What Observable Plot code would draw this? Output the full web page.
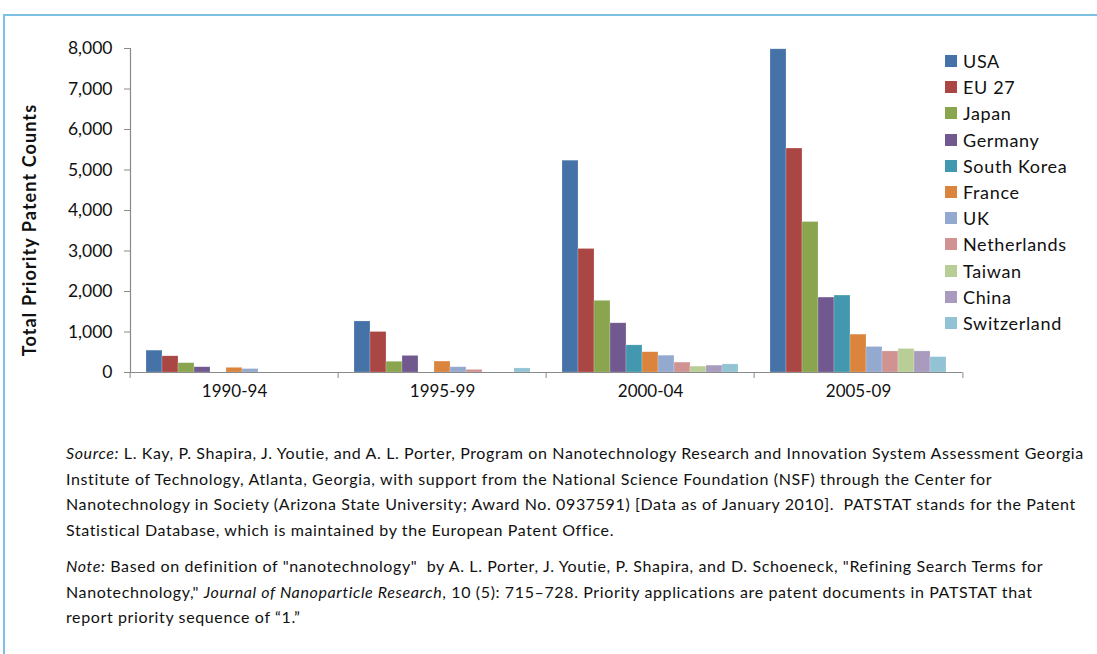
<!DOCTYPE html>
<html>
<head>
<meta charset="utf-8">
<script src="https://cdn.jsdelivr.net/npm/d3@7"></script>
<script src="https://cdn.jsdelivr.net/npm/@observablehq/plot@0.6"></script>
<style>
  html, body { margin: 0; padding: 0; background: #fff; }
  #wrap { position: relative; width: 1097px; height: 654px; overflow: hidden; font-family: Lato, "Open Sans", sans-serif; color: #111; }
  #border { position: absolute; left: 3px; top: 14px; right: -4px; bottom: -4px; border-top: 2px solid #7cc0e3; border-left: 2px solid #7cc0e3; }
  #chart { position: absolute; left: 0; top: 0; }
  #ytitle { position: absolute; left: 29px; top: 230px; transform: translate(-50%, -50%) rotate(-90deg); white-space: nowrap; font-weight: bold; font-size: 18px; letter-spacing: 1.1px; }
  #legend { position: absolute; left: 945px; top: 48px; font-size: 18px; letter-spacing: 0.65px; }
  #legend .item { display: flex; align-items: center; height: 26.2px; white-space: nowrap; }
  #legend .sw { width: 12px; height: 12px; margin-right: 6px; }
  #caption { position: absolute; left: 66px; top: 440px; font-size: 16px; letter-spacing: 0.62px; line-height: 25.5px; white-space: nowrap; }
  #caption p { margin: 0 0 11px 0; }
</style>
</head>
<body>
<div id="wrap">
  <div id="border"></div>
  <div id="chart"></div>
  <div id="ytitle">Total Priority Patent Counts</div>
  <div id="legend"></div>
  <div id="caption">
    <p><i>Source:</i> L. Kay, P. Shapira, J. Youtie, and A. L. Porter, Program on Nanotechnology Research and Innovation System Assessment Georgia<br>
    Institute of Technology, Atlanta, Georgia, with support from the National Science Foundation (NSF) through the Center for<br>
    Nanotechnology in Society (Arizona State University; Award No. 0937591) [Data as of January 2010].&nbsp; PATSTAT stands for the Patent<br>
    Statistical Database, which is maintained by the European Patent Office.</p>
    <p><i>Note:</i> Based on definition of "nanotechnology"&nbsp; by A. L. Porter, J. Youtie, P. Shapira, and D. Schoeneck, "Refining Search Terms for<br>
    Nanotechnology," <i>Journal of Nanoparticle Research</i>, 10 (5): 715–728. Priority applications are patent documents in PATSTAT that<br>
    report priority sequence of “1.”</p>
  </div>
</div>
<script>
const periods = ["1990-94", "1995-99", "2000-04", "2005-09"];
const countries = ["USA", "EU 27", "Japan", "Germany", "South Korea", "France", "UK", "Netherlands", "Taiwan", "China", "Switzerland"];
const colors = ["#4572A7", "#AA4643", "#89A54E", "#71588F", "#4198AF", "#DB843D", "#93A9CF", "#D19392", "#B9CD96", "#A99BBD", "#91C3D5"];
const v1990_94 = [540, 400, 230, 130, 0, 115, 85, 0, 0, 0, 0];
const v1995_99 = [1260, 1000, 265, 410, 0, 270, 130, 65, 0, 0, 100];
const v2000_04 = [5230, 3050, 1770, 1215, 670, 500, 415, 245, 145, 170, 200];
const v2005_09 = [7980, 5530, 3715, 1850, 1900, 935, 630, 520, 580, 520, 380];
const yTicks = [0, 1000, 2000, 3000, 4000, 5000, 6000, 7000, 8000];

const series = [v1990_94, v1995_99, v2000_04, v2005_09];
const data = [];
periods.forEach((p, i) => countries.forEach((c, j) => data.push({period: p, country: c, value: series[i][j]})));

const W = 1097, mL = 128, mR = 134;
const halfGroup = (W - mL - mR) / periods.length / 2;
const gray = "#8a8a8a";
const fmt = d3.format(",");

const chart = Plot.plot({
  width: W,
  height: 412,
  marginLeft: mL,
  marginRight: mR,
  marginTop: 48,
  marginBottom: 40,
  style: {fontFamily: "Lato, 'Open Sans', sans-serif", fontSize: "17px", color: "#111", background: "transparent"},
  fx: {domain: periods, padding: 0, label: null},
  x: {domain: countries, paddingInner: 0, paddingOuter: 0.73, axis: null},
  y: {domain: [0, 8000], label: null},
  color: {domain: countries, range: colors},
  marks: [
    Plot.barY(data.filter(d => d.value > 0), {fx: "period", x: "country", y: "value", fill: "country", stroke: "#fff", strokeOpacity: 0.35, strokeWidth: 0.6}),
    Plot.ruleY([0], {stroke: gray, strokeWidth: 1.2}),
    Plot.frame({anchor: "left", facet: "super", stroke: gray, strokeWidth: 1.2}),
    Plot.axisY({ticks: yTicks, tickFormat: fmt, tickSize: 6, tickPadding: 12, stroke: gray, fontSize: 17.5, letterSpacing: 0.8, label: null}),
    Plot.axisFx({anchor: "bottom", tickSize: 0, tickPadding: 12, fontSize: 17, letterSpacing: 0.7, label: null}),
    Plot.axisFx({anchor: "bottom", tickSize: 6, tickFormat: () => "", dx: -halfGroup, stroke: gray, label: null}),
    Plot.axisFx({anchor: "bottom", ticks: [periods[periods.length - 1]], tickSize: 6, tickFormat: () => "", dx: halfGroup, stroke: gray, label: null})
  ]
});
document.getElementById("chart").appendChild(chart);

const legend = document.getElementById("legend");
countries.forEach((c, i) => {
  const it = document.createElement("div");
  it.className = "item";
  const sw = document.createElement("span");
  sw.className = "sw";
  sw.style.background = colors[i];
  const t = document.createElement("span");
  t.textContent = c;
  it.appendChild(sw); it.appendChild(t);
  legend.appendChild(it);
});
</script>
</body>
</html>
